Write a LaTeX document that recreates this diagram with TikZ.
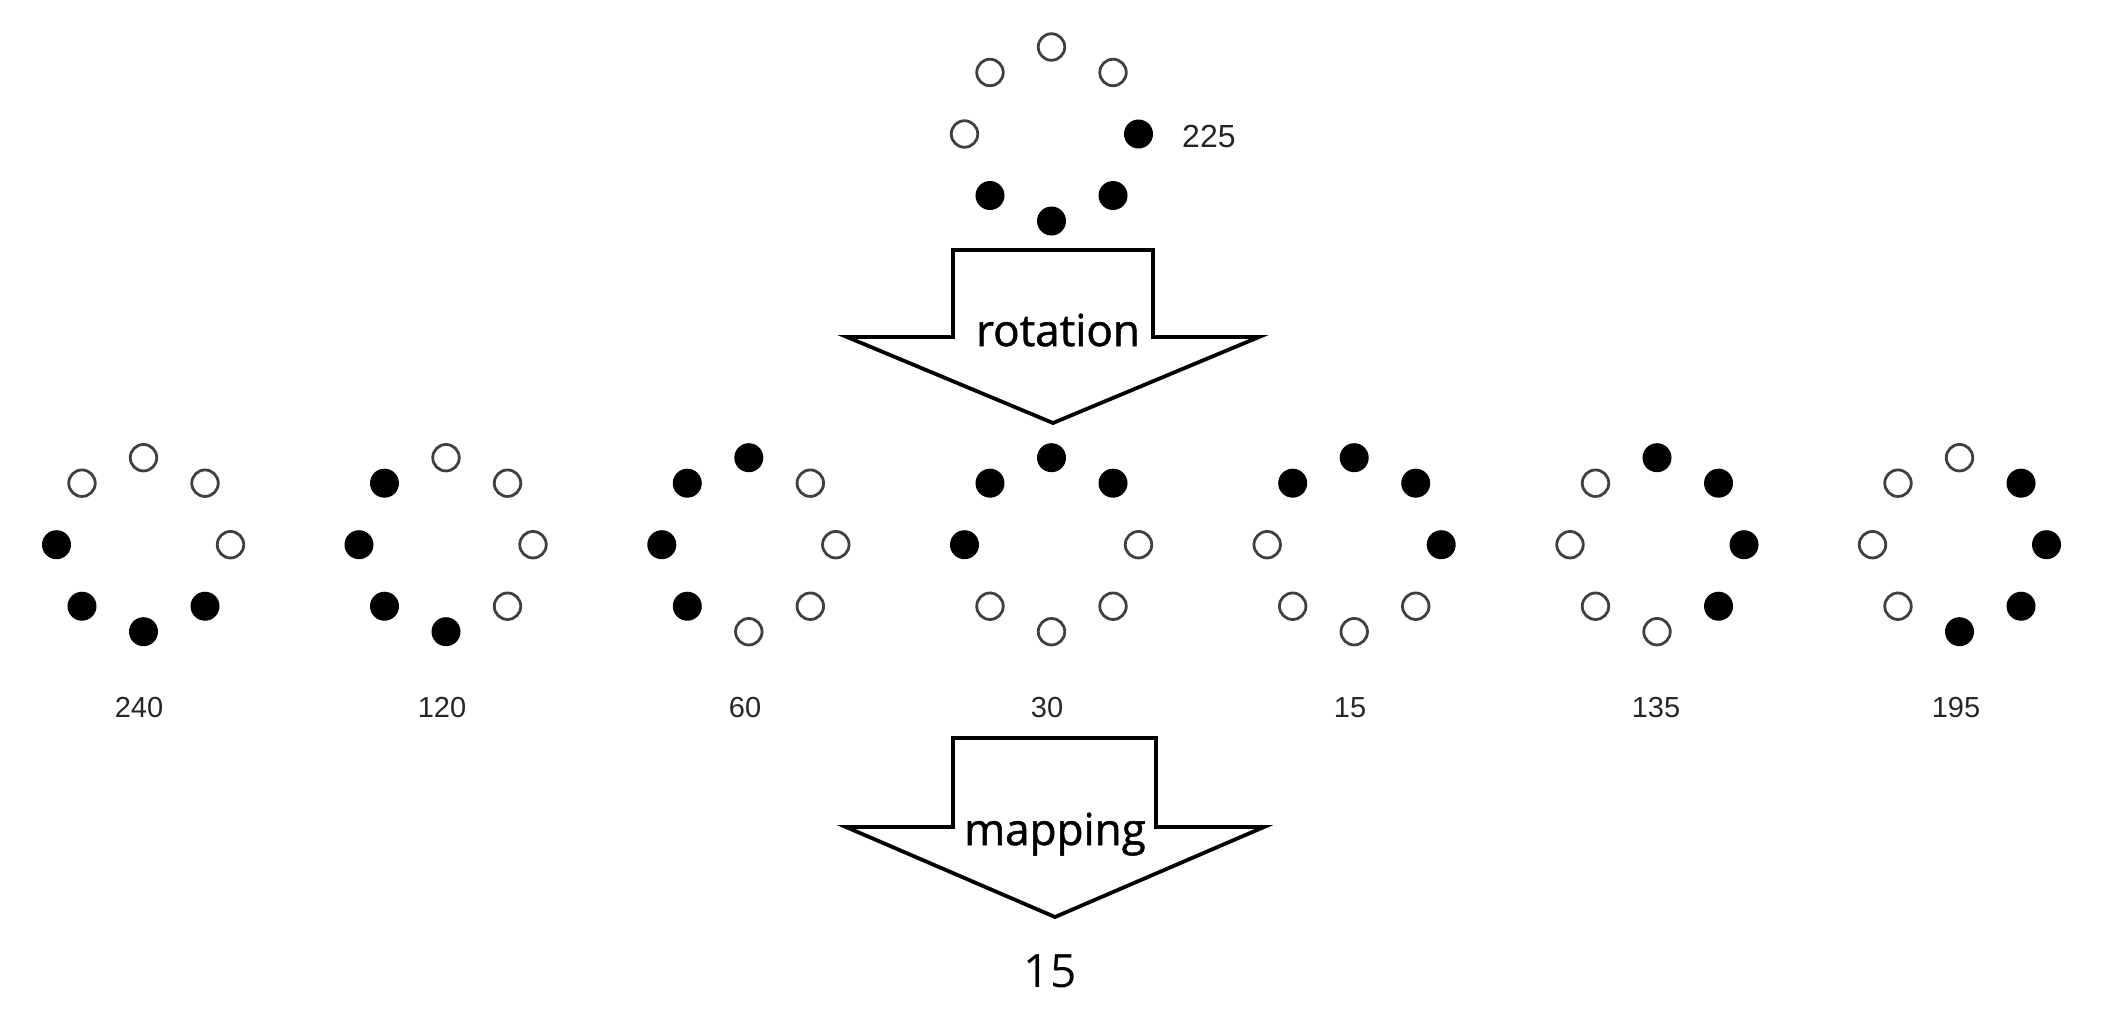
\documentclass[tikz,border=0pt]{standalone}
\usepackage{fontspec}
\setmainfont{Liberation Sans}
\newfontfamily\arrowfont[FakeBold=1.2]{Open Sans}
\newfontfamily\resultfont{Open Sans}
\newcommand\lbpdots[4]{%
  \foreach \b [count=\k from 0] in {#4} {%
    \ifnum\b=1
      \node[dot] (#1-\k) at ({#2+87*cos(90-45*\k)},{#3-87*sin(90-45*\k)}) {};
    \else
      \node[ring] (#1-\k) at ({#2+87*cos(90-45*\k)},{#3-87*sin(90-45*\k)}) {};
    \fi
  }%
}
\begin{document}
\begin{tikzpicture}[x=1pt,y=-1pt,
  ring/.style={circle,draw=black!75,line width=2.8pt,minimum size=26.5pt,inner sep=0pt},
  dot/.style={circle,fill=black,minimum size=29pt,inner sep=0pt},
  lbl/.style={font=\fontsize{29}{34}\selectfont,text=black!85,inner sep=0pt},
  bigarrow/.style={draw=black,line width=3.8pt,line join=miter,fill=white},
  arrlbl/.style={font=\arrowfont\fontsize{44}{50}\selectfont,inner sep=0pt}]
\useasboundingbox (0,0) rectangle (2106,1033);

% top pattern
\lbpdots{top}{1051.5}{134}{0,0,1,1,1,1,0,0}
\node[lbl,anchor=west,font=\fontsize{32}{36}\selectfont] (l225) at (1182,136) {225};

% rotation arrow
\draw[bigarrow] (953,250) -- (1153,250) -- (1153,337) -- (1259,337) -- (1053,423)
  -- (847,337) -- (953,337) -- cycle;
\node[arrlbl,anchor=base] (rot) at (1058,346) {rotation};

% row of patterns
\lbpdots{p240}{143.5}{544.7}{0,0,0,1,1,1,1,0}
\lbpdots{p120}{446}{544.7}{0,0,0,0,1,1,1,1}
\lbpdots{p60}{748.8}{544.7}{1,0,0,0,0,1,1,1}
\lbpdots{p30}{1051.5}{544.7}{1,1,0,0,0,0,1,1}
\lbpdots{p15}{1354.2}{544.7}{1,1,1,0,0,0,0,1}
\lbpdots{p135}{1657}{544.7}{1,1,1,1,0,0,0,0}
\lbpdots{p195}{1959.5}{544.7}{0,1,1,1,1,0,0,0}

\node[lbl] (l240) at (139,708) {240};
\node[lbl] (l120) at (442,708) {120};
\node[lbl] (l60) at (745,708) {60};
\node[lbl] (l30) at (1047,708) {30};
\node[lbl] (l15) at (1350,708) {15};
\node[lbl] (l135) at (1656,708) {135};
\node[lbl] (l195) at (1956,708) {195};

% mapping arrow
\draw[bigarrow] (953,738) -- (1156,738) -- (1156,827) -- (1264,827) -- (1055,917)
  -- (846,827) -- (953,827) -- cycle;
\node[arrlbl,anchor=base] (map) at (1055,845) {mapping};

\node[font=\resultfont\fontsize{46}{52}\selectfont,anchor=base,inner sep=0pt] (res) at (1050,987) {15};
\end{tikzpicture}
\end{document}
